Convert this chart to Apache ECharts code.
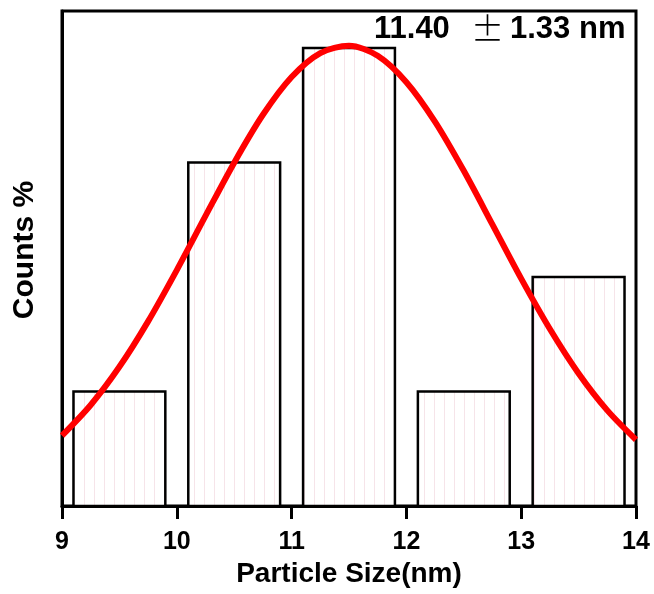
<!DOCTYPE html>
<html>
<head>
<meta charset="utf-8">
<title>Particle Size Distribution</title>
<script src="https://cdn.jsdelivr.net/npm/echarts@6/dist/echarts.min.js"></script>
<style>
  html, body { margin: 0; padding: 0; background: #ffffff; }
  #chart { width: 654px; height: 594px; }
</style>
</head>
<body>
<div id="chart"></div>
<script>
// Histogram bins (centre of each bin, nm) and their share of counts (%)
const binCenters = [9.5, 10.5, 11.5, 12.5, 13.5];
const countPercent = [9.09, 27.27, 36.36, 9.09, 18.18];

// Fitted distribution curve (nm, %)
const curveX = [9.0, 9.25, 9.5, 9.75, 10.0, 10.25, 10.5, 10.75, 11.0, 11.25, 11.5,
                11.75, 12.0, 12.25, 12.5, 12.75, 13.0, 13.25, 13.5, 13.75, 14.0];
const curveY = [5.59, 8.02, 11.05, 14.66, 18.73, 23.03, 27.26, 31.06, 34.06, 35.96, 36.54,
                35.75, 33.65, 30.50, 26.61, 22.34, 18.05, 14.05, 10.52, 7.59, 5.26];

// Axis ticks
const xTicks = [9, 10, 11, 12, 13, 14];

const fitText = { mean: '11.40', pm: '±', sd: '1.33 nm' };

// Faint pink vertical hatching used inside the bars
function makeHatch() {
  const c = document.createElement('canvas');
  c.width = 10; c.height = 4;
  const ctx = c.getContext('2d');
  ctx.fillStyle = '#ffffff';
  ctx.fillRect(0, 0, 10, 4);
  ctx.fillStyle = 'rgba(228,170,188,0.32)';
  ctx.fillRect(4, 0, 1, 4);
  return c;
}
const hatch = { image: makeHatch(), repeat: 'repeat' };

const binHalfWidth = 0.4;

const chart = echarts.init(document.getElementById('chart'), null, { renderer: 'canvas' });

const option = {
  animation: false,
  backgroundColor: '#ffffff',
  grid: {
    left: 62, right: 18, top: 11, bottom: 88,
    show: true, borderColor: '#000', borderWidth: 3
  },
  xAxis: {
    type: 'value',
    min: xTicks[0],
    max: xTicks[xTicks.length - 1],
    interval: 1,
    name: 'Particle Size(nm)',
    nameLocation: 'middle',
    nameGap: 53,
    nameTextStyle: { fontFamily: 'Liberation Sans', fontWeight: 'bold', fontSize: 28, color: '#000' },
    axisLine: { show: true, lineStyle: { color: '#000', width: 3 } },
    axisTick: { show: true, inside: false, length: 13, lineStyle: { color: '#000', width: 3 } },
    axisLabel: { margin: 24, fontFamily: 'Liberation Sans', fontWeight: 'bold', fontSize: 25, color: '#000' },
    splitLine: { show: false }
  },
  yAxis: {
    type: 'value',
    min: 0,
    max: 39.3,
    axisLine: { show: true, lineStyle: { color: '#000', width: 3 } },
    axisTick: { show: false },
    axisLabel: { show: false },
    splitLine: { show: false }
  },
  graphic: [
    {
      type: 'text', left: 374, top: 14, z: 100,
      style: { text: fitText.mean, font: 'bold 31px "Liberation Sans"', fill: '#000' }
    },
    {
      type: 'text', left: 471, top: 12, z: 100,
      style: { text: fitText.pm, font: '300 33px "Noto Sans CJK SC"', fill: '#000' }
    },
    {
      type: 'text', left: 510, top: 14, z: 100,
      style: { text: fitText.sd, font: 'bold 31px "Liberation Sans"', fill: '#000' }
    },
    {
      type: 'text', x: 25, y: 250, rotation: Math.PI / 2, z: 100,
      style: {
        text: 'Counts %', font: 'bold 30px "Liberation Sans"', fill: '#000',
        align: 'center', verticalAlign: 'middle'
      }
    }
  ],
  series: [
    {
      type: 'custom',
      z: 2,
      data: binCenters.map((x, i) => [x, countPercent[i]]),
      renderItem: function (params, api) {
        const x = api.value(0);
        const v = api.value(1);
        const topLeft = api.coord([x - binHalfWidth, v]);
        const bottomRight = api.coord([x + binHalfWidth, 0]);
        return {
          type: 'rect',
          shape: {
            x: topLeft[0], y: topLeft[1],
            width: bottomRight[0] - topLeft[0],
            height: bottomRight[1] - topLeft[1]
          },
          style: { fill: hatch, stroke: '#000', lineWidth: 2.5 }
        };
      }
    },
    {
      type: 'line',
      z: 5,
      smooth: 0.3,
      showSymbol: false,
      data: curveX.map((x, i) => [x, curveY[i]]),
      lineStyle: { color: '#ff0000', width: 6 }
    }
  ]
};

chart.setOption(option);
</script>
</body>
</html>
